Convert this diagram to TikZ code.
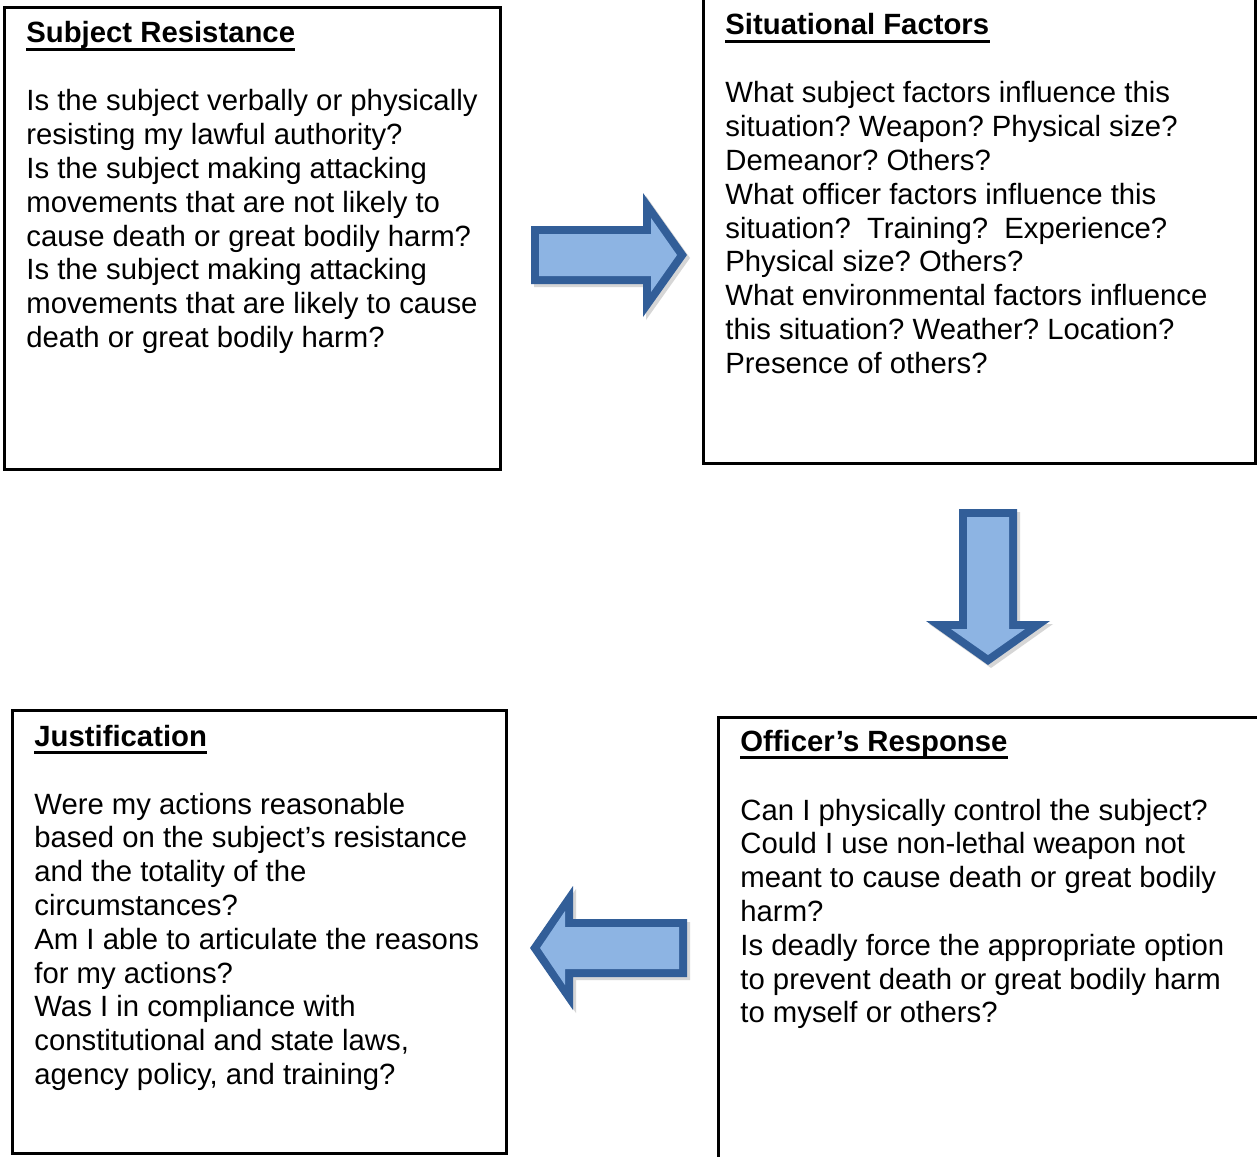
\documentclass[tikz,border=0pt]{standalone}
\usepackage{fontspec}
\setmainfont{Liberation Sans}
\frenchspacing
\definecolor{arrowdark}{RGB}{50,94,152}
\definecolor{arrowlight}{RGB}{141,180,227}
\newcommand\bodylines[1]{\vtop{\baselineskip=16.9pt\lineskiplimit=-20pt\halign{##\hfil\cr#1\crcr}}}
\begin{document}
\begin{tikzpicture}[x=0.5pt,y=-0.5pt,
  frame/.style={draw=black,line width=1.5pt},
  ttl/.style={inner sep=0pt,anchor=base west,font=\fontsize{14.65}{16.9}\selectfont\bfseries},
  txt/.style={inner sep=0pt,anchor=base west,font=\fontsize{14.65}{16.9}\selectfont},
  uline/.style={line width=1.5pt},
  adark/.style={fill=arrowdark},
  alight/.style={fill=arrowlight},
  ashadow/.style={fill=black!40,opacity=0.4}]
\useasboundingbox[fill=white] (0,0) rectangle (1257,1156);
\clip (0,0) rectangle (1257,1156);

% ---------- boxes ----------
\draw[frame] (4,7.5) rectangle (500.5,469);
\draw[frame] (703.5,-20) rectangle (1255.5,463);
\draw[frame] (12.3,710.6) rectangle (506,1153.5);
\draw[frame] (718,717) rectangle (1290,1200);

% ---------- Subject Resistance ----------
\node[ttl] (t1) at (26,43) {Subject Resistance};
\draw[uline] ([yshift=-3.4pt]t1.base west) -- ([yshift=-3.4pt]t1.base east);
\node[txt] (b1) at (26,111) {\bodylines{%
Is the subject verbally or physically\cr
resisting my lawful authority?\cr
Is the subject making attacking\cr
movements that are not likely to\cr
cause death or great bodily harm?\cr
Is the subject making attacking\cr
movements that are likely to cause\cr
death or great bodily harm?}};

% ---------- Situational Factors ----------
\node[ttl] (t2) at (725,35) {Situational Factors};
\draw[uline] ([yshift=-3.4pt]t2.base west) -- ([yshift=-3.4pt]t2.base east);
\node[txt] (b2) at (725,103) {\bodylines{%
What subject factors influence this\cr
situation? Weapon? Physical size?\cr
Demeanor? Others?\cr
What officer factors influence this\cr
situation?\ \ Training?\ \ Experience?\cr
Physical size? Others?\cr
What environmental factors influence\cr
this situation? Weather? Location?\cr
Presence of others?}};

% ---------- Justification ----------
\node[ttl] (t3) at (34,746) {Justification};
\draw[uline] ([yshift=-3.4pt]t3.base west) -- ([yshift=-3.4pt]t3.base east);
\node[txt] (b3) at (34,814) {\bodylines{%
Were my actions reasonable\cr
based on the subject’s resistance\cr
and the totality of the\cr
circumstances?\cr
Am I able to articulate the reasons\cr
for my actions?\cr
Was I in compliance with\cr
constitutional and state laws,\cr
agency policy, and training?}};

% ---------- Officer's Response ----------
\node[ttl] (t4) at (740,751) {Officer’s Response};
\draw[uline] ([yshift=-3.4pt]t4.base west) -- ([yshift=-3.4pt]t4.base east);
\node[txt] (b4) at (740,820) {\bodylines{%
Can I physically control the subject?\cr
Could I use non-lethal weapon not\cr
meant to cause death or great bodily\cr
harm?\cr
Is deadly force the appropriate option\cr
to prevent death or great bodily harm\cr
to myself or others?}};

% ---------- right arrow ----------
\fill[ashadow] (534,229) -- (646,229) -- (646,196) -- (690,258) -- (646,320) -- (646,287) -- (534,287) -- cycle;
\fill[adark] (531,226) -- (643,226) -- (643,193) -- (687,255) -- (643,317) -- (643,284) -- (531,284) -- cycle;
\fill[alight] (539,234) -- (651,234) -- (651,218) -- (677,255) -- (651,292) -- (651,276) -- (539,276) -- cycle;

% ---------- down arrow ----------
\fill[ashadow] (962,512) -- (1020,512) -- (1020,624) -- (1053,624) -- (991,668) -- (929,624) -- (962,624) -- cycle;
\fill[adark] (959,509) -- (1017,509) -- (1017,621) -- (1050,621) -- (988,665) -- (926,621) -- (959,621) -- cycle;
\fill[alight] (967,517) -- (1009,517) -- (1009,629) -- (1025,629) -- (988,655) -- (951,629) -- (967,629) -- cycle;

% ---------- left arrow ----------
\fill[ashadow] (690,922) -- (576,922) -- (576,889) -- (533,951) -- (576,1013) -- (576,980) -- (690,980) -- cycle;
\fill[adark] (687,919) -- (573,919) -- (573,886) -- (530,948) -- (573,1010) -- (573,977) -- (687,977) -- cycle;
\fill[alight] (679,927) -- (565,927) -- (565,911) -- (540,948) -- (565,985) -- (565,969) -- (679,969) -- cycle;
\end{tikzpicture}
\end{document}
